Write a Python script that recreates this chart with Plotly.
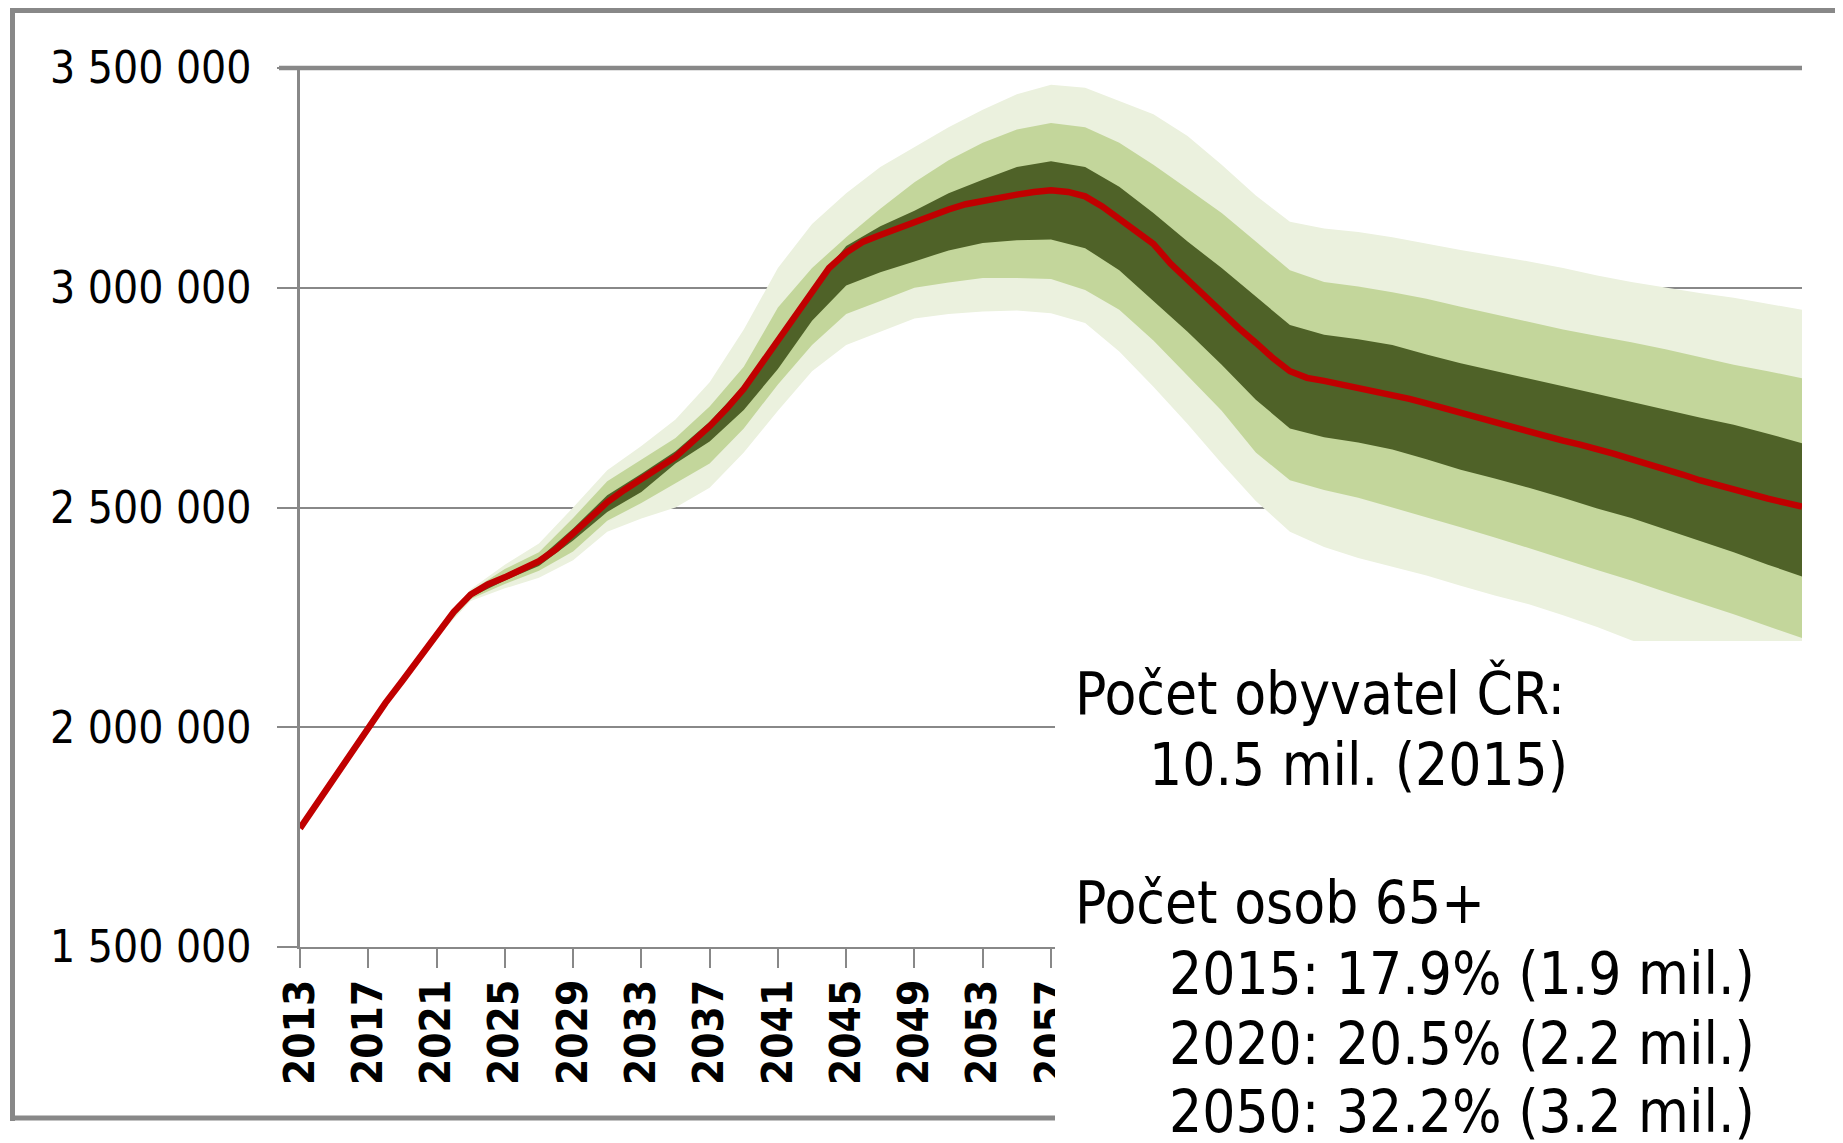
import plotly.graph_objects as go

# median projection, yearly (thousands of persons)
years = list(range(2013, 2102))
median = [1770, 1828, 1885, 1945, 2003, 2055, 2106, 2160, 2212, 2262,
          2302, 2325, 2341, 2358, 2378, 2405, 2440, 2478, 2512, 2540,
          2565, 2590, 2615, 2650, 2685, 2725, 2770, 2825, 2880, 2940,
          2995, 3045, 3080, 3105, 3120, 3135, 3150, 3165, 3178, 3190,
          3198, 3205, 3212, 3218, 3222, 3218, 3208, 3185, 3158, 3128,
          3100, 3055, 3017, 2980, 2945, 2908, 2875, 2840, 2810, 2795,
          2788, 2780, 2773, 2765, 2757, 2747, 2737, 2726, 2715, 2705,
          2695, 2683, 2672, 2662, 2652, 2643, 2634, 2622, 2610, 2599,
          2588, 2575, 2562, 2551, 2540, 2530, 2520, 2511, 2502]

# uncertainty bands, every second year (thousands)
band_years = list(range(2013, 2102, 2))
light_hi = [1770, 1887, 2006, 2110, 2220, 2314, 2370, 2418, 2500, 2585,
            2640, 2700, 2785, 2905, 3045, 3145, 3215, 3275, 3320, 3365,
            3405, 3440, 3462, 3455, 3425, 3395, 3345, 3280, 3210, 3150,
            3135, 3127, 3115, 3100, 3086, 3073, 3060, 3045, 3028, 3013,
            3000, 2988, 2977, 2963, 2950]
mid_hi = [1770, 1886, 2005, 2108, 2217, 2310, 2360, 2398, 2476, 2560,
          2608, 2658, 2730, 2820, 2955, 3045, 3115, 3180, 3240, 3290,
          3330, 3360, 3375, 3365, 3330, 3280, 3225, 3170, 3105, 3040,
          3013, 3003, 2990, 2975, 2957, 2940, 2922, 2905, 2890, 2876,
          2860, 2842, 2825, 2810, 2794]
dark_hi = [1770, 1885, 2004, 2107, 2215, 2306, 2348, 2384, 2452, 2528,
           2577, 2628, 2695, 2778, 2885, 3000, 3095, 3140, 3175, 3215,
           3246, 3275, 3288, 3275, 3230, 3170, 3105, 3045, 2980, 2915,
           2893, 2883, 2870, 2848, 2828, 2811, 2794, 2776, 2758, 2740,
           2722, 2705, 2688, 2668, 2646]
dark_lo = [1770, 1884, 2002, 2104, 2209, 2296, 2334, 2367, 2425, 2490,
           2535, 2600, 2650, 2722, 2815, 2925, 3005, 3035, 3060, 3085,
           3102, 3108, 3110, 3090, 3040, 2970, 2900, 2825, 2745, 2680,
           2660, 2648, 2632, 2610, 2586, 2566, 2545, 2522, 2498, 2476,
           2450, 2425, 2398, 2370, 2343]
mid_lo = [1770, 1884, 2001, 2102, 2207, 2292, 2326, 2356, 2400, 2470,
          2510, 2555, 2600, 2680, 2780, 2870, 2940, 2970, 3000, 3012,
          3022, 3022, 3020, 2995, 2950, 2880, 2800, 2720, 2625, 2562,
          2540, 2522, 2500, 2478, 2455, 2432, 2408, 2383, 2358, 2334,
          2308, 2283, 2257, 2230, 2203]
light_lo = [1770, 1883, 2000, 2100, 2204, 2287, 2316, 2340, 2380, 2445,
            2475, 2500, 2545, 2625, 2720, 2810, 2870, 2900, 2930, 2940,
            2946, 2948, 2942, 2920, 2855, 2775, 2690, 2600, 2515, 2445,
            2410, 2385, 2365, 2345, 2322, 2300, 2280, 2255, 2228, 2198,
            2174, 2150, 2126, 2102, 2078]

y_ticks = [1500000, 2000000, 2500000, 3000000, 3500000]
y_labels = ["1 500 000", "2 000 000", "2 500 000", "3 000 000", "3 500 000"]
x_ticks = list(range(2013, 2101, 4))

info_lines = ["Počet obyvatel ČR:", "10.5 mil. (2015)",
              "Počet osob 65+", "2015: 17.9% (1.9 mil.)",
              "2020: 20.5% (2.2 mil.)", "2050: 32.2% (3.2 mil.)"]

FONT = "DejaVu Sans Condensed, DejaVu Sans, sans-serif"
GRAY = "#888888"

# page has an 8px body margin, so positions below are page pixels minus OFF
OFF = 8
W, H = 1843, 1143
L, T = 300 - OFF, 68 - OFF
R, B = W - (1802 - OFF), H - (947 - OFF)
pw, ph = W - L - R, H - T - B


def px(x):
    return (x - OFF - L) / pw


def py(y):
    return (H - B - (y - OFF)) / ph


def k(vals):
    return [v * 1000 for v in vals]


fig = go.Figure()

bands = [(light_lo, light_hi, "#EBF1DE"),
         (mid_lo, mid_hi, "#C3D69B"),
         (dark_lo, dark_hi, "#4F6228")]
for lo, hi, col in bands:
    fig.add_trace(go.Scatter(x=band_years, y=k(lo), mode="lines",
                             line=dict(width=0, color=col), hoverinfo="skip"))
    fig.add_trace(go.Scatter(x=band_years, y=k(hi), mode="lines",
                             line=dict(width=0, color=col), fill="tonexty",
                             fillcolor=col, hoverinfo="skip"))

fig.add_trace(go.Scatter(x=years, y=k(median), mode="lines",
                         line=dict(color="#C00000", width=6.5)))

fig.update_layout(
    width=W, height=H,
    margin=dict(l=L, r=R, t=T, b=B),
    paper_bgcolor="white", plot_bgcolor="white",
    showlegend=False,
    font=dict(family=FONT, color="black"),
)

fig.update_xaxes(
    range=[2013, 2101], tickvals=x_ticks, ticktext=[str(v) for v in x_ticks],
    tickangle=-90, tickfont=dict(family=FONT, size=42, weight="bold"),
    showgrid=False, zeroline=False,
    showline=True, linecolor=GRAY, linewidth=2,
    ticks="outside", ticklen=19, tickwidth=2, tickcolor=GRAY,
    ticklabelstandoff=-5,
)
fig.update_yaxes(
    range=[1500000, 3500000], tickvals=y_ticks, ticktext=y_labels,
    tickfont=dict(family=FONT, size=44),
    showgrid=True, gridcolor=GRAY, gridwidth=2, zeroline=False,
    showline=True, linecolor=GRAY, linewidth=2.5,
    ticks="outside", ticklen=20, tickwidth=2, tickcolor=GRAY,
    ticklabelstandoff=17,
)

shapes = [
    # heavier top border of plot area
    dict(type="line", xref="paper", yref="paper", x0=px(279), x1=1, y0=1, y1=1,
         line=dict(color=GRAY, width=4.5), layer="above"),
    # white panel behind the text
    dict(type="rect", xref="paper", yref="paper", x0=px(1055), x1=px(W + 30),
         y0=py(641), y1=py(H + 30), fillcolor="white", line=dict(width=0),
         layer="above"),
    # outer frame
    dict(type="line", xref="paper", yref="paper", x0=px(12.5), x1=px(12.5),
         y0=py(8), y1=py(1121), line=dict(color=GRAY, width=5), layer="above"),
    dict(type="line", xref="paper", yref="paper", x0=px(10), x1=px(W + 30),
         y0=py(10.5), y1=py(10.5), line=dict(color=GRAY, width=5), layer="above"),
    dict(type="line", xref="paper", yref="paper", x0=px(10), x1=px(1055),
         y0=py(1118), y1=py(1118), line=dict(color=GRAY, width=5), layer="above"),
]
fig.update_layout(shapes=shapes)

# text block: left x, baseline y in page pixels
text_pos = [(1073, 716), (1147, 787), (1073, 925), (1167, 996), (1167, 1066), (1167, 1134)]
for txt, (tx, ty) in zip(info_lines, text_pos):
    fig.add_annotation(x=px(tx), y=py(ty + 14), xref="paper", yref="paper",
                       text=txt, showarrow=False, xanchor="left", yanchor="bottom",
                       font=dict(family=FONT, size=58, color="black"))

fig.write_html("out.html")
